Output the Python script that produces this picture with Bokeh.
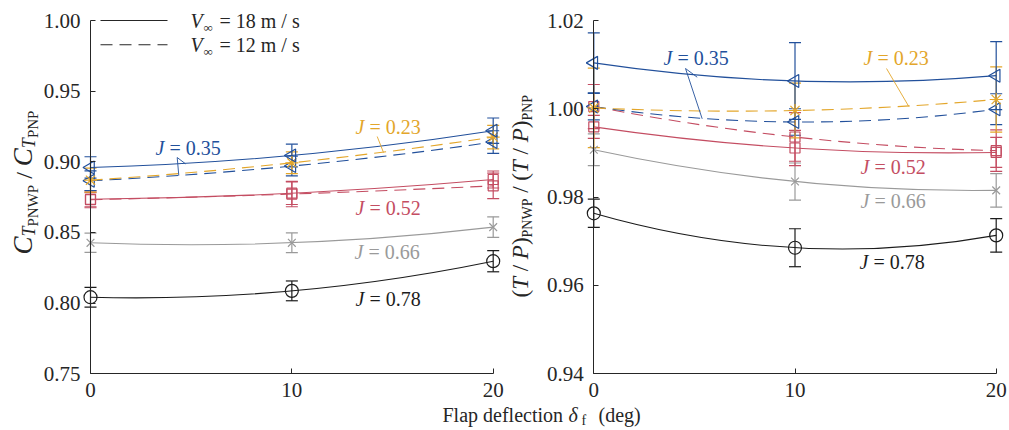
import math
from bokeh.plotting import figure
from bokeh.models import (ColumnDataSource, Whisker, TeeHead, Label, Range1d,
                          FixedTicker, PrintfTickFormatter, LinearAxis)
from bokeh.embed import file_html
from bokeh.resources import INLINE

# ---------------------------------------------------------------- data
flap = [0, 10, 20]                      # flap deflection (deg)
x_ticks = [0, 10, 20]
ct_ticks = [0.75, 0.80, 0.85, 0.90, 0.95, 1.00]
tp_ticks = [0.94, 0.96, 0.98, 1.00, 1.02]
j_values = ["0.23", "0.35", "0.52", "0.66", "0.78"]
legend_speeds = ["18", "12"]

# thrust ratio C_T,PNWP / C_T,PNP
ct_j023_v12 = [0.8870, 0.8993, 0.9175]
ct_j023_v12_err = [0.0085, 0.0077, 0.0083]
ct_j035_v18 = [0.8960, 0.9045, 0.9220]
ct_j035_v18_err = [0.0076, 0.0080, 0.0090]
ct_j035_v12 = [0.8866, 0.8970, 0.9140]
ct_j035_v12_err = [0.0070, 0.0070, 0.0080]
ct_j052_v18 = [0.8735, 0.8778, 0.8875]
ct_j052_v18_err = [0.0060, 0.0080, 0.0060]
ct_j052_v12 = [0.8732, 0.8772, 0.8830]
ct_j052_v12_err = [0.0050, 0.0090, 0.0090]
ct_j066_v18 = [0.8427, 0.8427, 0.8538]
ct_j066_v18_err = [0.0068, 0.0070, 0.0073]
ct_j078_v18 = [0.8042, 0.8087, 0.8297]
ct_j078_v18_err = [0.0070, 0.0070, 0.0075]

# efficiency ratio (T/P)_PNWP / (T/P)_PNP
tp_j023_v12 = [1.0002, 0.9996, 1.0021]
tp_j023_v12_err = [0.0090, 0.0062, 0.0074]
tp_j035_v18 = [1.0104, 1.0063, 1.0075]
tp_j035_v18_err = [0.0068, 0.0087, 0.0077]
tp_j035_v12 = [1.0005, 0.9970, 0.9999]
tp_j035_v12_err = [0.0030, 0.0030, 0.0035]
tp_j052_v18 = [0.9959, 0.9911, 0.9901]
tp_j052_v18_err = [0.0026, 0.0040, 0.0034]
tp_j052_v12 = [1.0005, 0.9936, 0.9905]
tp_j052_v12_err = [0.0050, 0.0055, 0.0047]
tp_j066_v18 = [0.9907, 0.9835, 0.9815]
tp_j066_v18_err = [0.0036, 0.0042, 0.0038]
tp_j078_v18 = [0.9763, 0.9685, 0.9713]
tp_j078_v18_err = [0.0032, 0.0043, 0.0038]

# ---------------------------------------------------------------- style
SERIF = "Liberation Serif"
AX = "#262626"
BLUE = "#22509b"
YELLOW = "#e3a62a"
RED = "#c44d62"
GRAY = "#9a9a9a"
BLACK = "#1c1c1c"
SOLID, DASHED = "solid", "12 7"
WIDTH, HEIGHT = 1009, 430
MID = 0.3375          # em distance from baseline to the middle of the text box

# Times-compatible advance widths (1/1000 em) used to set mixed-style runs
W_UP = {" ": 250, "(": 333, ")": 333, "/": 278, "P": 556, "N": 722, "W": 944,
        "=": 564, ".": 250, "m": 778, "s": 389, "f": 333}
W_IT = {"T": 556, "P": 611, "C": 667, "J": 444, "V": 611}


def run_width(s, size, italic):
    table = W_IT if italic else W_UP
    return sum(table.get(c, 500) for c in s) * size / 1000.0


# pixel -> data helpers for the two panels (one shared canvas)
SXL, SYL = 20.135, 1413.3
def lpx(px): return (px - 90) / SXL
def lpy(py): return 1.00 - (py - 20) / SYL

SXR, SYR = 20.12, 4412.5
def rpx(px): return (px - 593.3) / SXR
def rpy(py): return 1.02 - (py - 20) / SYR

LEFT = (lpx, lpy, "default")
RIGHT = (rpx, rpy, "r")

p = figure(width=WIDTH, height=HEIGHT,
           x_range=Range1d(lpx(0), lpx(WIDTH)),
           y_range=Range1d(lpy(HEIGHT), lpy(0)),
           toolbar_location=None, output_backend="svg", min_border=0)
p.extra_x_ranges = {"r": Range1d(rpx(0), rpx(WIDTH))}
p.extra_y_ranges = {"r": Range1d(rpy(HEIGHT), rpy(0))}
p.grid.visible = False
p.outline_line_color = None
p.background_fill_color = "white"
p.border_fill_color = "white"

# left panel axes
p.xaxis.fixed_location = ct_ticks[0]
p.yaxis.fixed_location = flap[0]
p.xaxis.bounds = (flap[0], flap[-1])
p.yaxis.bounds = (ct_ticks[0], ct_ticks[-1])
p.xaxis.ticker = FixedTicker(ticks=x_ticks)
p.yaxis.ticker = FixedTicker(ticks=ct_ticks)
p.yaxis.formatter = PrintfTickFormatter(format="%.2f")

# right panel axes
rx = LinearAxis(x_range_name="r", y_range_name="r", fixed_location=tp_ticks[0],
                bounds=(flap[0], flap[-1]), ticker=FixedTicker(ticks=x_ticks))
ry = LinearAxis(x_range_name="r", y_range_name="r", fixed_location=flap[0],
                bounds=(tp_ticks[0], tp_ticks[-1]),
                ticker=FixedTicker(ticks=tp_ticks),
                formatter=PrintfTickFormatter(format="%.2f"))
p.add_layout(rx, "below")
p.add_layout(ry, "left")

for ax in p.xaxis + p.yaxis:
    ax.axis_line_color = AX
    ax.axis_line_width = 1
    ax.major_tick_line_color = AX
    ax.major_tick_in = 5
    ax.major_tick_out = 0
    ax.minor_tick_line_color = None
    ax.major_label_text_font = SERIF
    ax.major_label_text_font_size = "21px"
    ax.major_label_text_color = AX
for ax in p.xaxis:
    ax.major_label_standoff = 9
for ax in p.yaxis:
    ax.major_label_standoff = 10


def draw_series(y, err, color, marker, dash, size, rng="default"):
    lo = [v - e for v, e in zip(y, err)]
    hi = [v + e for v, e in zip(y, err)]
    src = ColumnDataSource(dict(x=flap, y=y, lo=lo, hi=hi))
    names = dict(x_range_name=rng, y_range_name=rng)
    # quadratic Bezier through the three measured points
    cx = 2 * flap[1] - (flap[0] + flap[2]) / 2
    cy = 2 * y[1] - (y[0] + y[2]) / 2
    p.quadratic(x0=[flap[0]], y0=[y[0]], x1=[flap[2]], y1=[y[2]],
                cx=[cx], cy=[cy], line_color=color, line_width=1.1,
                line_dash=dash, **names)
    head = dict(size=12, line_color=color, line_width=1.2)
    p.add_layout(Whisker(source=src, base="x", upper="hi", lower="lo",
                         line_color=color, line_width=1.2,
                         upper_head=TeeHead(**head), lower_head=TeeHead(**head),
                         **names))
    angle = math.pi / 2 if marker == "triangle" else 0.0
    p.scatter("x", "y", source=src, marker=marker, size=size, angle=angle,
              fill_color=None, line_color=color, line_width=1.2, **names)


def text(panel, px, py, s, size, color=AX, italic=False, rotated=False):
    """Text whose baseline starts at pixel (px, py); rotated runs bottom-up."""
    fx, fy, rng = panel
    if rotated:
        cx, cy = px - MID * size, py
    else:
        cx, cy = px, py - MID * size
    p.add_layout(Label(x=fx(cx), y=fy(cy), text=s, text_font=SERIF,
                       text_font_size=f"{size}px",
                       text_font_style="italic" if italic else "normal",
                       text_color=color, angle=math.pi / 2 if rotated else 0.0,
                       text_align="left", text_baseline="middle",
                       x_range_name=rng, y_range_name=rng))


def j_label(panel, px, py, value, color):
    text(panel, px, py, "J", 20, color, italic=True)
    text(panel, px + 14, py, f"= {value}", 20, color)


def vertical_runs(base_px, start_py, runs):
    """Rotated title made of runs (text, size, italic, drop), read bottom-up."""
    pos = start_py
    for s, size, italic, drop in runs:
        lead = len(s) - len(s.lstrip(" "))
        trail = len(s) - len(s.rstrip(" "))
        core = s.strip(" ")
        pos -= run_width(" " * lead, size, False)
        text(LEFT, base_px + drop, pos, core, size, AX, italic, rotated=True)
        pos -= run_width(core, size, italic)
        pos -= run_width(" " * trail, size, False)


# ---------------------------------------------------------------- left panel
draw_series(ct_j078_v18, ct_j078_v18_err, BLACK, "circle", SOLID, 13)
draw_series(ct_j066_v18, ct_j066_v18_err, GRAY, "x", SOLID, 11)
draw_series(ct_j052_v12, ct_j052_v12_err, RED, "square", DASHED, 10)
draw_series(ct_j052_v18, ct_j052_v18_err, RED, "square", SOLID, 10)
draw_series(ct_j035_v12, ct_j035_v12_err, BLUE, "triangle", DASHED, 13)
draw_series(ct_j023_v12, ct_j023_v12_err, YELLOW, "asterisk", DASHED, 13)
draw_series(ct_j035_v18, ct_j035_v18_err, BLUE, "triangle", SOLID, 13)

# legend
p.line([lpx(100), lpx(167)], [lpy(20), lpy(20)], line_color=AX, line_width=1.1)
p.line([lpx(100), lpx(167)], [lpy(44.3), lpy(44.3)], line_color=AX,
       line_width=1.1, line_dash=DASHED)
for speed, base in zip(legend_speeds, (27.5, 51.5)):
    text(LEFT, 190, base, "V", 20, AX, italic=True)
    text(LEFT, 203, base + 3.5, "\u221e", 13, AX)
    text(LEFT, 219, base, f"= {speed} m / s", 20, AX)

# curve labels with leaders
j_label(LEFT, 155, 154, j_values[1], BLUE)
j_label(LEFT, 355, 133, j_values[0], YELLOW)
j_label(LEFT, 355, 214, j_values[2], RED)
j_label(LEFT, 354, 258.5, j_values[3], GRAY)
j_label(LEFT, 355, 305, j_values[4], BLACK)
p.line([lpx(178.3), lpx(176.7), lpx(185)], [lpy(175), lpy(157), lpy(163.3)],
       line_color=BLUE, line_width=0.9)
p.line([lpx(376.7), lpx(383)], [lpy(136), lpy(152)], line_color=YELLOW,
       line_width=0.9)

# y axis title  C_{T_PNWP} / C_{T_PNP}
vertical_runs(32, 254, [
    ("C", 27, True, 0), ("T", 18, True, 3), ("PNWP", 15, False, 5.5),
    (" / ", 24, False, 0),
    ("C", 27, True, 0), ("T", 18, True, 3), ("PNP", 15, False, 5.5),
])

# ---------------------------------------------------------------- right panel
R = "r"
draw_series(tp_j078_v18, tp_j078_v18_err, BLACK, "circle", SOLID, 13, R)
draw_series(tp_j066_v18, tp_j066_v18_err, GRAY, "x", SOLID, 11, R)
draw_series(tp_j052_v12, tp_j052_v12_err, RED, "square", DASHED, 10, R)
draw_series(tp_j052_v18, tp_j052_v18_err, RED, "square", SOLID, 10, R)
draw_series(tp_j035_v12, tp_j035_v12_err, BLUE, "triangle", DASHED, 13, R)
draw_series(tp_j023_v12, tp_j023_v12_err, YELLOW, "asterisk", DASHED, 13, R)
draw_series(tp_j035_v18, tp_j035_v18_err, BLUE, "triangle", SOLID, 13, R)

j_label(RIGHT, 663, 64, j_values[1], BLUE)
j_label(RIGHT, 863, 64, j_values[0], YELLOW)
j_label(RIGHT, 860, 173, j_values[2], RED)
j_label(RIGHT, 860, 207, j_values[3], GRAY)
j_label(RIGHT, 859, 268.5, j_values[4], BLACK)
p.line([rpx(696.7), rpx(685), rpx(701.7)], [rpy(76.7), rpy(68), rpy(118.3)],
       line_color=BLUE, line_width=0.9, x_range_name=R, y_range_name=R)
p.line([rpx(886), rpx(908.3)], [rpy(68), rpy(106)], line_color=YELLOW,
       line_width=0.9, x_range_name=R, y_range_name=R)

# y axis title  (T / P)_PNWP / (T / P)_PNP
vertical_runs(527.5, 297, [
    ("(", 23, False, 0), ("T", 23, True, 0), (" / ", 23, False, 0),
    ("P", 23, True, 0), (")", 23, False, 0), ("PNWP", 14, False, 4.5),
    (" / ", 23, False, 0),
    ("(", 23, False, 0), ("T", 23, True, 0), (" / ", 23, False, 0),
    ("P", 23, True, 0), (")", 23, False, 0), ("PNP", 14, False, 4.5),
])

# ---------------------------------------------------------------- shared x title
text(LEFT, 442, 421, "Flap deflection", 20)
text(LEFT, 568, 421, "\u03b4", 20, italic=True)
text(LEFT, 581, 424.5, "f", 14)
text(LEFT, 598, 421, "(deg)", 20)

open("out.html", "w").write(file_html(p, INLINE))
